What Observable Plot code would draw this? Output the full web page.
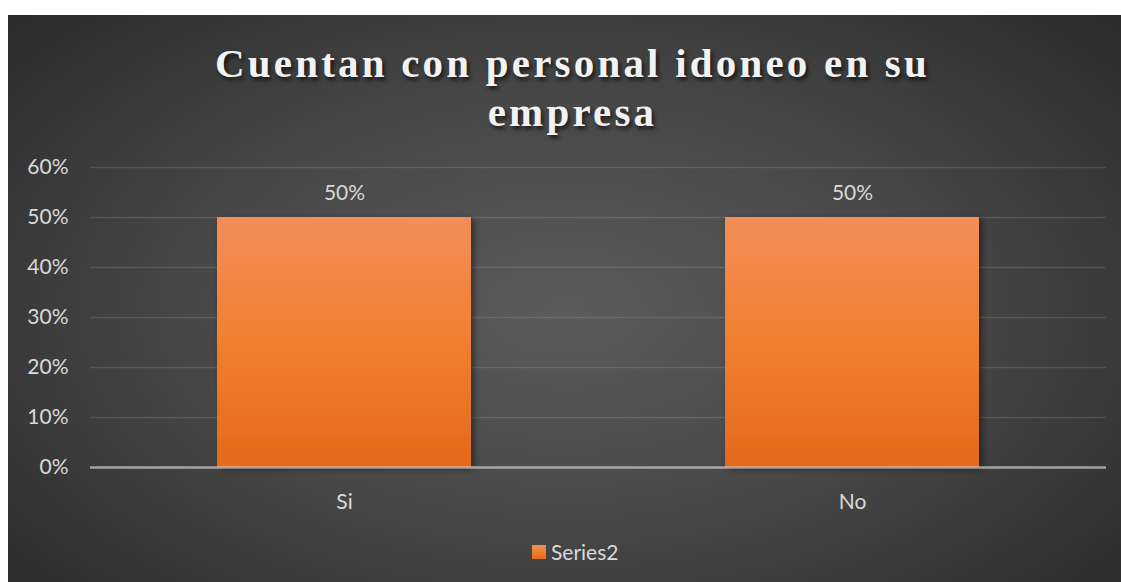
<!DOCTYPE html>
<html>
<head>
<meta charset="utf-8">
<script src="https://cdn.jsdelivr.net/npm/d3@7"></script>
<script src="https://cdn.jsdelivr.net/npm/@observablehq/plot@0.6"></script>
<style>
  html, body { margin: 0; padding: 0; background: #ffffff; }
  #panel {
    position: absolute; left: 8px; top: 15px; width: 1113px; height: 567px;
    background: radial-gradient(ellipse 75% 85% at 50% 52%, #5b5b5b 0%, #474747 45%, #2e2e2e 85%, #272727 100%);
    overflow: hidden;
  }
  #title {
    position: absolute; left: 8px; top: 24px; width: 1113px; text-align: center;
    font-family: "Liberation Serif", "DejaVu Serif", serif; font-weight: bold;
    font-size: 41px; line-height: 49px; letter-spacing: 3.2px; color: #f2f2f2;
    text-shadow: 2px 3px 4px rgba(0,0,0,0.7);
    z-index: 2;
  }
  #chart { position: absolute; left: 0; top: 120px; }
  #legend {
    position: absolute; left: 524px; top: 524px; display: flex; align-items: center;
    font-family: Lato, "Open Sans", sans-serif; font-size: 21px; color: #d9d9d9;
  }
  #legend .sw { width: 14px; height: 14px; margin-right: 5px;
    background: linear-gradient(#f28d56, #f07f2f 50%, #e46a1c); }
</style>
</head>
<body>
<div id="panel">
  <div id="chart"></div>
  <div id="title"></div>
  <div id="legend"></div>
</div>
<script>
const titleLines = ["Cuentan con personal idoneo en su", "empresa"];
const categories = ["Si", "No"];
const values = [0.5, 0.5];
const yTicks = [0, 0.1, 0.2, 0.3, 0.4, 0.5, 0.6];
const seriesName = "Series2";

document.getElementById("title").innerHTML = titleLines.join("<br>");
document.getElementById("legend").innerHTML = `<div class="sw"></div><span>${seriesName}</span>`;

const data = categories.map((c, i) => ({category: c, value: values[i]}));
const fmt = d3.format(".0%");

const plot = Plot.plot({
  width: 1113,
  height: 400,
  marginTop: 32,
  marginBottom: 68,
  marginLeft: 82,
  marginRight: 15,
  style: {background: "transparent", fontFamily: "Lato, 'Open Sans', sans-serif", fontSize: "21px", color: "#d9d9d9"},
  x: {domain: categories, paddingInner: 0.5, paddingOuter: 0.25, label: null},
  y: {domain: [0, 0.6], ticks: yTicks, tickFormat: fmt, label: null},
  marks: [
    Plot.ruleY(yTicks.filter(d => d > 0), {stroke: "#ffffff", strokeOpacity: 0.12, strokeWidth: 1.5}),
    Plot.barY(data, {x: "category", y: "value", fill: "url(#barGrad)", className: "bars"}),
    Plot.ruleY([0], {stroke: "#d0d0d0", strokeOpacity: 0.7, strokeWidth: 2.5}),
    Plot.text(data, {x: "category", y: "value", text: d => fmt(d.value), dy: -24, fill: "#d9d9d9", fontSize: 21}),
    Plot.axisY({ticks: yTicks, tickFormat: fmt, tickSize: 0, tickPadding: 22, fontSize: 21, fill: "#d9d9d9"}),
    Plot.axisX({tickSize: 0, tickPadding: 27, fontSize: 21, fill: "#d9d9d9"})
  ]
});

const ns = "http://www.w3.org/2000/svg";
const defs = document.createElementNS(ns, "defs");
defs.innerHTML = `
  <linearGradient id="barGrad" x1="0" y1="0" x2="0" y2="1">
    <stop offset="0%" stop-color="#f28e58"/>
    <stop offset="50%" stop-color="#f17f2e"/>
    <stop offset="100%" stop-color="#e4691b"/>
  </linearGradient>
  <filter id="barShadow" x="-10%" y="-10%" width="130%" height="130%">
    <feDropShadow dx="3" dy="2" stdDeviation="3" flood-color="#000" flood-opacity="0.45"/>
  </filter>`;
plot.insertBefore(defs, plot.firstChild);
plot.querySelectorAll("g.bars").forEach(g => g.setAttribute("filter", "url(#barShadow)"));

document.getElementById("chart").appendChild(plot);
</script>
</body>
</html>
